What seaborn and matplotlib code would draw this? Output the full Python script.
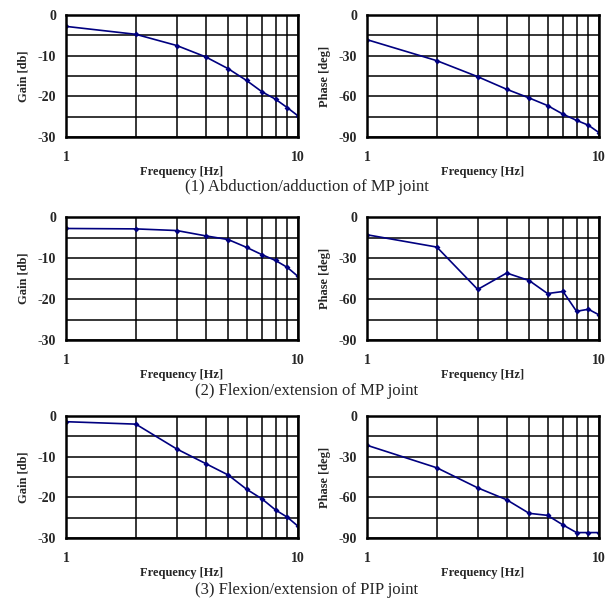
import numpy as np
import pandas as pd
import matplotlib
matplotlib.use("Agg")
import matplotlib.pyplot as plt
import seaborn as sns

freq = [1, 2, 3, 4, 5, 6, 7, 8, 9, 10]

gain_mp_abd = [-2.8, -4.75, -7.5, -10.3, -13.2, -16.1, -18.9, -20.7, -22.8, -24.8]
phase_mp_abd = [-18.2, -33.7, -45.5, -54.8, -61.2, -66.8, -73.2, -77.7, -81.3, -86.8]

gain_mp_flex = [-2.8, -2.9, -3.3, -4.6, -5.5, -7.4, -9.2, -10.6, -12.3, -14.5]
phase_mp_flex = [-13.0, -22.0, -53.0, -41.0, -46.5, -56.0, -54.5, -69.0, -67.5, -71.6]

gain_pip_flex = [-1.4, -2.0, -8.1, -11.7, -14.5, -18.0, -20.4, -23.1, -24.9, -27.1]
phase_pip_flex = [-21.6, -38.2, -53.0, -61.8, -71.8, -73.3, -80.4, -86.0, -86.0, -86.0]

captions = ["(1) Abduction/adduction of MP joint",
            "(2) Flexion/extension of MP joint",
            "(3) Flexion/extension of PIP joint"]

gain_ticks = [0, -10, -20, -30]
phase_ticks = [0, -30, -60, -90]

sns.set_style("white")
plt.rcParams['font.family'] = ['Liberation Serif', 'DejaVu Serif']
plt.rcParams['axes.unicode_minus'] = False

fig = plt.figure(figsize=(6.13, 5.98), dpi=100)
W, H = 613, 598

rows = [(15, 137), (217, 340), (416, 538)]
cols = [(66, 298), (367, 599)]
caption_y = [187, 391, 590]

data = [(gain_mp_abd, phase_mp_abd), (gain_mp_flex, phase_mp_flex),
        (gain_pip_flex, phase_pip_flex)]

line_color = "#000080"

for r, (top, bot) in enumerate(rows):
    for c, (lft, rgt) in enumerate(cols):
        ax = fig.add_axes([lft / W, 1 - bot / H, (rgt - lft) / W, (bot - top) / H])
        vals = data[r][c]
        df = pd.DataFrame({"f": freq, "v": vals})
        sns.lineplot(data=df, x="f", y="v", ax=ax, color=line_color, lw=1.2,
                     marker="D", markersize=3, markeredgewidth=0)
        ax.set_xscale("log")
        ax.set_xlim(1, 10)
        if c == 0:
            ax.set_ylim(-30, 0)
            ax.set_yticks(gain_ticks)
            ax.set_yticks(np.arange(-25, 0, 5), minor=True)
            ax.set_ylabel("Gain [db]", fontsize=9, fontweight="bold", labelpad=6)
        else:
            ax.set_ylim(-90, 0)
            ax.set_yticks(phase_ticks)
            ax.set_yticks(np.arange(-75, 0, 15), minor=True)
            ax.set_ylabel("Phase [deg]", fontsize=9, fontweight="bold", labelpad=6)
        ax.set_xticks([1, 10])
        ax.set_xticklabels(["1", "10"])
        ax.set_xticks(freq[1:-1], minor=True)
        ax.xaxis.set_minor_formatter(matplotlib.ticker.NullFormatter())
        ax.grid(True, which="both", color="black", lw=1.1)
        ax.tick_params(axis="both", which="both", length=0, labelsize=10)
        ax.tick_params(axis="y", pad=7)
        ax.tick_params(axis="x", pad=10)
        for lab in ax.get_xticklabels() + ax.get_yticklabels():
            lab.set_fontweight("bold")
        ax.set_xlabel("Frequency [Hz]", fontsize=9, fontweight="bold", labelpad=1.5)
        for s in ax.spines.values():
            s.set_color("black")
            s.set_linewidth(1.8)
        ax.set_axisbelow(True)
    fig.text(0.5, 1 - caption_y[r] / H, captions[r], ha="center", va="center",
             fontsize=12)

fig.savefig("out.png", dpi=100)
